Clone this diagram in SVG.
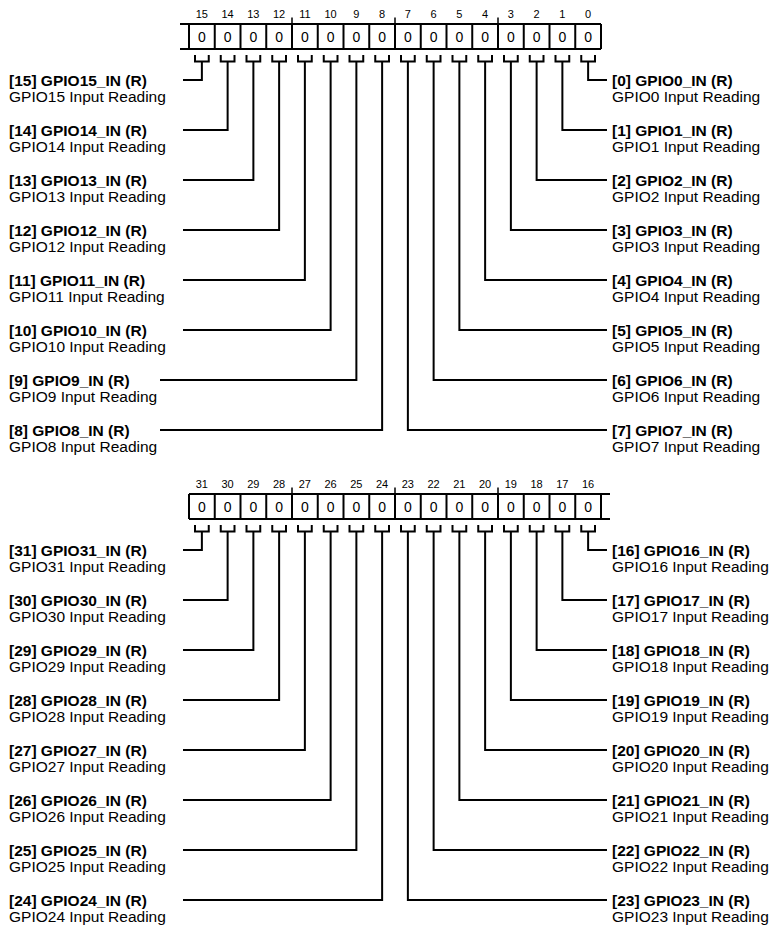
<svg xmlns="http://www.w3.org/2000/svg" xmlns:xlink="http://www.w3.org/1999/xlink" width="770" height="931" viewBox="0 0 770 931">
<style>
.ln{stroke:#000;stroke-width:2;fill:none}
.tk{stroke:#000;stroke-width:1.5;fill:none}
.bn{font-family:"Liberation Sans",Arial,sans-serif;font-size:11px;text-anchor:middle;fill:#000}
.v{font-family:"Liberation Sans",Arial,sans-serif;font-size:14px;text-anchor:middle;fill:#000}
.nm{font-family:"Liberation Sans",Arial,sans-serif;font-size:15.5px;font-weight:bold;fill:#000}
.ds{font-family:"Liberation Sans",Arial,sans-serif;font-size:15.5px;fill:#000}
</style>
<defs>
<path id="br" class="ln" d="M-6.875 0V6.5H6.875V0"/>
</defs>
<rect width="770" height="931" fill="#fff"/>

<!-- Register frames -->
<g id="reg-lo">
<path class="ln" d="M180 24H601M180 49H601M189 24V49M214.75 24V49M240.5 24V49M266.25 24V49M292 24V49M317.75 24V49M343.5 24V49M369.25 24V49M395 24V49M420.75 24V49M446.5 24V49M472.25 24V49M498 24V49M523.75 24V49M549.5 24V49M575.25 24V49M601 24V49"/>
<path class="tk" d="M292 17.5V24M395 17.5V24M498 17.5V24"/>
</g>
<g id="reg-hi">
<path class="ln" d="M189 494H610M189 519H610M189 494V519M214.75 494V519M240.5 494V519M266.25 494V519M292 494V519M317.75 494V519M343.5 494V519M369.25 494V519M395 494V519M420.75 494V519M446.5 494V519M472.25 494V519M498 494V519M523.75 494V519M549.5 494V519M575.25 494V519M601 494V519"/>
<path class="tk" d="M292 487.5V494M395 487.5V494M498 487.5V494"/>
</g>

<!-- Connectors -->
<g id="connectors">
<use href="#br" x="201.875" y="55"/><use href="#br" x="227.625" y="55"/><use href="#br" x="253.375" y="55"/><use href="#br" x="279.125" y="55"/>
<use href="#br" x="304.875" y="55"/><use href="#br" x="330.625" y="55"/><use href="#br" x="356.375" y="55"/><use href="#br" x="382.125" y="55"/>
<use href="#br" x="407.875" y="55"/><use href="#br" x="433.625" y="55"/><use href="#br" x="459.375" y="55"/><use href="#br" x="485.125" y="55"/>
<use href="#br" x="510.875" y="55"/><use href="#br" x="536.625" y="55"/><use href="#br" x="562.375" y="55"/><use href="#br" x="588.125" y="55"/>
<use href="#br" x="201.875" y="525"/><use href="#br" x="227.625" y="525"/><use href="#br" x="253.375" y="525"/><use href="#br" x="279.125" y="525"/>
<use href="#br" x="304.875" y="525"/><use href="#br" x="330.625" y="525"/><use href="#br" x="356.375" y="525"/><use href="#br" x="382.125" y="525"/>
<use href="#br" x="407.875" y="525"/><use href="#br" x="433.625" y="525"/><use href="#br" x="459.375" y="525"/><use href="#br" x="485.125" y="525"/>
<use href="#br" x="510.875" y="525"/><use href="#br" x="536.625" y="525"/><use href="#br" x="562.375" y="525"/><use href="#br" x="588.125" y="525"/>
<path class="ln" d="M201.875 61.5V80H183M227.625 61.5V130H183M253.375 61.5V180H183M279.125 61.5V230H183M304.875 61.5V280H183M330.625 61.5V330H183M356.375 61.5V380H160M382.125 61.5V430H160"/>
<path class="ln" d="M588.125 61.5V80H607M562.375 61.5V130H607M536.625 61.5V180H607M510.875 61.5V230H607M485.125 61.5V280H607M459.375 61.5V330H607M433.625 61.5V380H607M407.875 61.5V430H607"/>
<path class="ln" d="M201.875 531.5V550H183M227.625 531.5V600H183M253.375 531.5V650H183M279.125 531.5V700H183M304.875 531.5V750H183M330.625 531.5V800H183M356.375 531.5V850H183M382.125 531.5V900H183"/>
<path class="ln" d="M588.125 531.5V550H607M562.375 531.5V600H607M536.625 531.5V650H607M510.875 531.5V700H607M485.125 531.5V750H607M459.375 531.5V800H607M433.625 531.5V850H607M407.875 531.5V900H607"/>
</g>

<!-- Bits 15..8 (left) -->
<g id="bit15"><text class="bn" x="201.875" y="18">15</text><text class="v" x="201.875" y="41.8">0</text><text class="nm" x="9" y="85.8">[15] GPIO15_IN (R)</text><text class="ds" x="9" y="102">GPIO15 Input Reading</text></g>
<g id="bit14"><text class="bn" x="227.625" y="18">14</text><text class="v" x="227.625" y="41.8">0</text><text class="nm" x="9" y="135.8">[14] GPIO14_IN (R)</text><text class="ds" x="9" y="152">GPIO14 Input Reading</text></g>
<g id="bit13"><text class="bn" x="253.375" y="18">13</text><text class="v" x="253.375" y="41.8">0</text><text class="nm" x="9" y="185.8">[13] GPIO13_IN (R)</text><text class="ds" x="9" y="202">GPIO13 Input Reading</text></g>
<g id="bit12"><text class="bn" x="279.125" y="18">12</text><text class="v" x="279.125" y="41.8">0</text><text class="nm" x="9" y="235.8">[12] GPIO12_IN (R)</text><text class="ds" x="9" y="252">GPIO12 Input Reading</text></g>
<g id="bit11"><text class="bn" x="304.875" y="18">11</text><text class="v" x="304.875" y="41.8">0</text><text class="nm" x="9" y="285.8">[11] GPIO11_IN (R)</text><text class="ds" x="9" y="302">GPIO11 Input Reading</text></g>
<g id="bit10"><text class="bn" x="330.625" y="18">10</text><text class="v" x="330.625" y="41.8">0</text><text class="nm" x="9" y="335.8">[10] GPIO10_IN (R)</text><text class="ds" x="9" y="352">GPIO10 Input Reading</text></g>
<g id="bit9"><text class="bn" x="356.375" y="18">9</text><text class="v" x="356.375" y="41.8">0</text><text class="nm" x="9" y="385.8">[9] GPIO9_IN (R)</text><text class="ds" x="9" y="402">GPIO9 Input Reading</text></g>
<g id="bit8"><text class="bn" x="382.125" y="18">8</text><text class="v" x="382.125" y="41.8">0</text><text class="nm" x="9" y="435.8">[8] GPIO8_IN (R)</text><text class="ds" x="9" y="452">GPIO8 Input Reading</text></g>
<!-- Bits 7..0 (right) -->
<g id="bit7"><text class="bn" x="407.875" y="18">7</text><text class="v" x="407.875" y="41.8">0</text><text class="nm" x="612" y="435.8">[7] GPIO7_IN (R)</text><text class="ds" x="612" y="452">GPIO7 Input Reading</text></g>
<g id="bit6"><text class="bn" x="433.625" y="18">6</text><text class="v" x="433.625" y="41.8">0</text><text class="nm" x="612" y="385.8">[6] GPIO6_IN (R)</text><text class="ds" x="612" y="402">GPIO6 Input Reading</text></g>
<g id="bit5"><text class="bn" x="459.375" y="18">5</text><text class="v" x="459.375" y="41.8">0</text><text class="nm" x="612" y="335.8">[5] GPIO5_IN (R)</text><text class="ds" x="612" y="352">GPIO5 Input Reading</text></g>
<g id="bit4"><text class="bn" x="485.125" y="18">4</text><text class="v" x="485.125" y="41.8">0</text><text class="nm" x="612" y="285.8">[4] GPIO4_IN (R)</text><text class="ds" x="612" y="302">GPIO4 Input Reading</text></g>
<g id="bit3"><text class="bn" x="510.875" y="18">3</text><text class="v" x="510.875" y="41.8">0</text><text class="nm" x="612" y="235.8">[3] GPIO3_IN (R)</text><text class="ds" x="612" y="252">GPIO3 Input Reading</text></g>
<g id="bit2"><text class="bn" x="536.625" y="18">2</text><text class="v" x="536.625" y="41.8">0</text><text class="nm" x="612" y="185.8">[2] GPIO2_IN (R)</text><text class="ds" x="612" y="202">GPIO2 Input Reading</text></g>
<g id="bit1"><text class="bn" x="562.375" y="18">1</text><text class="v" x="562.375" y="41.8">0</text><text class="nm" x="612" y="135.8">[1] GPIO1_IN (R)</text><text class="ds" x="612" y="152">GPIO1 Input Reading</text></g>
<g id="bit0"><text class="bn" x="588.125" y="18">0</text><text class="v" x="588.125" y="41.8">0</text><text class="nm" x="612" y="85.8">[0] GPIO0_IN (R)</text><text class="ds" x="612" y="102">GPIO0 Input Reading</text></g>

<!-- Bits 31..24 (left) -->
<g id="bit31"><text class="bn" x="201.875" y="488">31</text><text class="v" x="201.875" y="511.8">0</text><text class="nm" x="9" y="555.8">[31] GPIO31_IN (R)</text><text class="ds" x="9" y="572">GPIO31 Input Reading</text></g>
<g id="bit30"><text class="bn" x="227.625" y="488">30</text><text class="v" x="227.625" y="511.8">0</text><text class="nm" x="9" y="605.8">[30] GPIO30_IN (R)</text><text class="ds" x="9" y="622">GPIO30 Input Reading</text></g>
<g id="bit29"><text class="bn" x="253.375" y="488">29</text><text class="v" x="253.375" y="511.8">0</text><text class="nm" x="9" y="655.8">[29] GPIO29_IN (R)</text><text class="ds" x="9" y="672">GPIO29 Input Reading</text></g>
<g id="bit28"><text class="bn" x="279.125" y="488">28</text><text class="v" x="279.125" y="511.8">0</text><text class="nm" x="9" y="705.8">[28] GPIO28_IN (R)</text><text class="ds" x="9" y="722">GPIO28 Input Reading</text></g>
<g id="bit27"><text class="bn" x="304.875" y="488">27</text><text class="v" x="304.875" y="511.8">0</text><text class="nm" x="9" y="755.8">[27] GPIO27_IN (R)</text><text class="ds" x="9" y="772">GPIO27 Input Reading</text></g>
<g id="bit26"><text class="bn" x="330.625" y="488">26</text><text class="v" x="330.625" y="511.8">0</text><text class="nm" x="9" y="805.8">[26] GPIO26_IN (R)</text><text class="ds" x="9" y="822">GPIO26 Input Reading</text></g>
<g id="bit25"><text class="bn" x="356.375" y="488">25</text><text class="v" x="356.375" y="511.8">0</text><text class="nm" x="9" y="855.8">[25] GPIO25_IN (R)</text><text class="ds" x="9" y="872">GPIO25 Input Reading</text></g>
<g id="bit24"><text class="bn" x="382.125" y="488">24</text><text class="v" x="382.125" y="511.8">0</text><text class="nm" x="9" y="905.8">[24] GPIO24_IN (R)</text><text class="ds" x="9" y="922">GPIO24 Input Reading</text></g>
<!-- Bits 23..16 (right) -->
<g id="bit23"><text class="bn" x="407.875" y="488">23</text><text class="v" x="407.875" y="511.8">0</text><text class="nm" x="612" y="905.8">[23] GPIO23_IN (R)</text><text class="ds" x="612" y="922">GPIO23 Input Reading</text></g>
<g id="bit22"><text class="bn" x="433.625" y="488">22</text><text class="v" x="433.625" y="511.8">0</text><text class="nm" x="612" y="855.8">[22] GPIO22_IN (R)</text><text class="ds" x="612" y="872">GPIO22 Input Reading</text></g>
<g id="bit21"><text class="bn" x="459.375" y="488">21</text><text class="v" x="459.375" y="511.8">0</text><text class="nm" x="612" y="805.8">[21] GPIO21_IN (R)</text><text class="ds" x="612" y="822">GPIO21 Input Reading</text></g>
<g id="bit20"><text class="bn" x="485.125" y="488">20</text><text class="v" x="485.125" y="511.8">0</text><text class="nm" x="612" y="755.8">[20] GPIO20_IN (R)</text><text class="ds" x="612" y="772">GPIO20 Input Reading</text></g>
<g id="bit19"><text class="bn" x="510.875" y="488">19</text><text class="v" x="510.875" y="511.8">0</text><text class="nm" x="612" y="705.8">[19] GPIO19_IN (R)</text><text class="ds" x="612" y="722">GPIO19 Input Reading</text></g>
<g id="bit18"><text class="bn" x="536.625" y="488">18</text><text class="v" x="536.625" y="511.8">0</text><text class="nm" x="612" y="655.8">[18] GPIO18_IN (R)</text><text class="ds" x="612" y="672">GPIO18 Input Reading</text></g>
<g id="bit17"><text class="bn" x="562.375" y="488">17</text><text class="v" x="562.375" y="511.8">0</text><text class="nm" x="612" y="605.8">[17] GPIO17_IN (R)</text><text class="ds" x="612" y="622">GPIO17 Input Reading</text></g>
<g id="bit16"><text class="bn" x="588.125" y="488">16</text><text class="v" x="588.125" y="511.8">0</text><text class="nm" x="612" y="555.8">[16] GPIO16_IN (R)</text><text class="ds" x="612" y="572">GPIO16 Input Reading</text></g>
</svg>
